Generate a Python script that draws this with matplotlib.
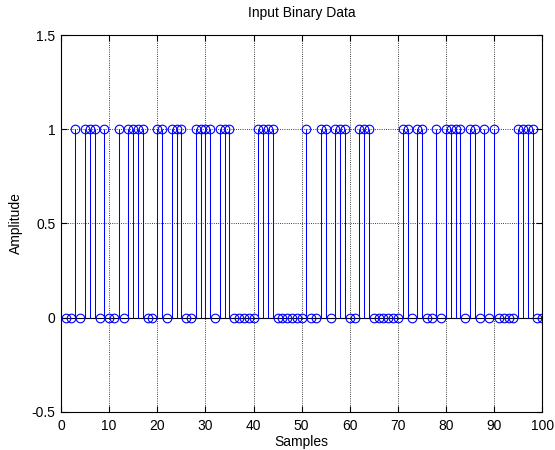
import matplotlib
matplotlib.use('Agg')
import matplotlib.pyplot as plt
import numpy as np

plt.rcParams['font.family'] = ['Liberation Sans', 'DejaVu Sans']

# sample index and the binary value
samples = list(range(1, 101))
bits = [0, 0, 1, 0, 1, 1, 1, 0, 1, 0,
        0, 1, 0, 1, 1, 1, 1, 0, 0, 1,
        1, 0, 1, 1, 1, 0, 0, 1, 1, 1,
        1, 0, 1, 1, 1, 0, 0, 0, 0, 0,
        1, 1, 1, 1, 0, 0, 0, 0, 0, 0,
        1, 0, 0, 1, 1, 0, 1, 1, 1, 0,
        0, 1, 1, 1, 0, 0, 0, 0, 0, 0,
        1, 1, 0, 1, 1, 0, 0, 1, 0, 1,
        1, 1, 1, 0, 1, 1, 0, 1, 0, 1,
        0, 0, 0, 0, 1, 1, 1, 1, 0, 0]

x_ticks = [0, 10, 20, 30, 40, 50, 60, 70, 80, 90, 100]
y_ticks = [-0.5, 0, 0.5, 1, 1.5]

fig = plt.figure(figsize=(5.55, 4.5), dpi=100)
ax = fig.add_axes([0.110, 0.085, 0.867, 0.837])

ax.axhline(0, color='black', linewidth=0.8, zorder=2)
markerline, stemlines, baseline = ax.stem(samples, bits, linefmt='b-', markerfmt='o', basefmt=' ')
markerline.set_markerfacecolor('none')
markerline.set_markeredgecolor('blue')
markerline.set_markersize(6.2)
markerline.set_markeredgewidth(0.8)
stemlines.set_linewidth(0.75)
stemlines.set_color('blue')

ax.set_xlim(0, 100)
ax.set_ylim(-0.5, 1.5)
ax.set_xticks(x_ticks)
ax.set_yticks(y_ticks)
ax.set_yticklabels(['-0.5', '0', '0.5', '1', '1.5'])
ax.grid(True, linestyle=':', color='black', linewidth=0.6)
ax.set_axisbelow(True)
ax.tick_params(direction='in', top=True, right=True, length=4, width=0.8, labelsize=10)
ax.tick_params(axis='x', pad=5)
ax.tick_params(axis='y', pad=4)
for s in ax.spines.values():
    s.set_linewidth(0.8)

ax.set_title('Input Binary Data', fontsize=10, pad=13)
ax.set_xlabel('Samples', fontsize=10, labelpad=2)
ax.set_ylabel('Amplitude', fontsize=10, labelpad=6)

fig.savefig('out.png', dpi=100)
